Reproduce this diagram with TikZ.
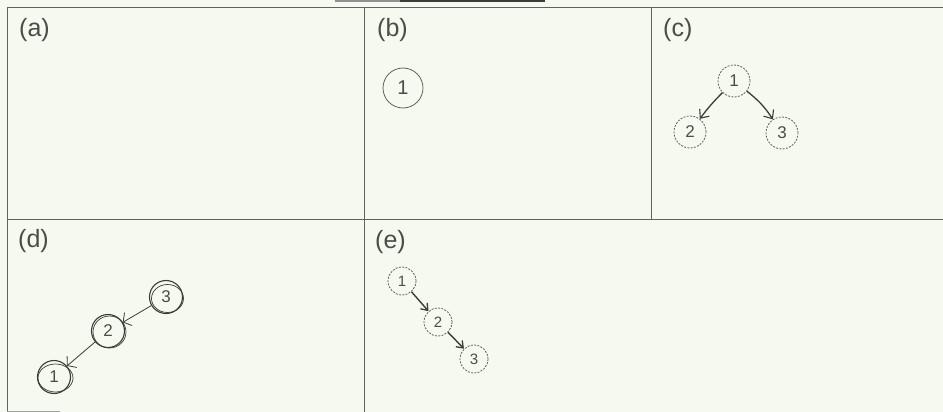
\documentclass[tikz,border=0pt]{standalone}
\usepackage{fontspec}
\setmainfont{Liberation Sans}
\usetikzlibrary{arrows.meta}
\definecolor{bg}{HTML}{F6F9EF}
\definecolor{ln}{HTML}{5F635D}
\definecolor{txt}{HTML}{4A4E48}
\definecolor{ink}{HTML}{3A3D38}
\tikzset{
  grid/.style={draw=ln, line width=0.9pt},
  lbl/.style={anchor=base west, text=txt, font=\fontsize{25}{25}\selectfont, inner sep=0pt},
  solidnode/.style={circle, draw=ln, line width=0.8pt, minimum size=40pt, inner sep=0pt, text=txt, font=\fontsize{20}{20}\selectfont},
  dashnode/.style={circle, draw=ln, line width=0.8pt, dash pattern=on 2pt off 1.3pt, minimum size=32pt, inner sep=0pt, text=txt, font=\fontsize{17}{17}\selectfont},
  smalldash/.style={dashnode, minimum size=28pt, font=\fontsize{15}{15}\selectfont},
  sketchnode/.style={circle, draw=ink, line width=1.1pt, minimum size=33pt, inner sep=0pt, text=txt, font=\fontsize{17}{17}\selectfont},
  sketch2/.style={draw=ink, line width=0.7pt},
  carrow/.style={draw=ink, line width=1.3pt, -{Straight Barb[length=7pt,width=12pt,line width=1.1pt]}},
  darrow/.style={draw=ink, line width=0.8pt, -{Straight Barb[length=6pt,width=15pt,line width=0.8pt]}},
  earrow/.style={draw=ink, line width=1.4pt, -{Straight Barb[length=6pt,width=9pt,line width=1.3pt]}},
}
\begin{document}
\begin{tikzpicture}[x=1pt,y=-1pt]
\fill[bg] (0,0) rectangle (943,412);
\useasboundingbox (0,0) rectangle (943,412);
% top stray bar
\draw[draw=ln!70, line width=2.5pt] (335,1) -- (400,1);
\draw[draw=ink, line width=3pt] (400,1) -- (545,1);
% grid
\draw[grid] (943,7) -- (7,7) -- (7,412);
\draw[grid] (7,219) -- (943,219);
\draw[grid] (364,7) -- (364,412);
\draw[grid] (651,7) -- (651,219);
\draw[draw=ln!60, line width=0.8pt] (7,411) -- (60,411);
% labels
\node[lbl] (la) at (19,37) {(a)};
\node[lbl] (lb) at (377,37) {(b)};
\node[lbl] (lc) at (663,37) {(c)};
\node[lbl] (ld) at (18,247) {(d)};
\node[lbl] (le) at (375,248) {(e)};
% (b)
\node[solidnode] (b1) at (403,88) {1};
% (c)
\node[dashnode] (c1) at (734,81) {1};
\node[dashnode] (c2) at (690,132) {2};
\node[dashnode] (c3) at (782,133) {3};
\draw[carrow] (c1) to[bend right=4] (c2);
\draw[carrow] (c1) to[bend left=9] (c3);
% (d)
\node[sketchnode] (d3) at (166,297) {3};
\node[sketchnode] (d2) at (108,331) {2};
\node[sketchnode] (d1) at (54,377) {1};
\draw[sketch2] (167.5,298.5) ellipse (16 and 14);
\draw[sketch2] (109.5,332) ellipse (16.5 and 16);
\draw[sketch2] (55.5,378) ellipse (17.5 and 14);
\draw[darrow] (d3) -- (d2);
\draw[darrow] (d2) -- (d1);
% (e)
\node[smalldash] (e1) at (402,281) {1};
\node[smalldash] (e2) at (438,322) {2};
\node[smalldash] (e3) at (474,359) {3};
\draw[earrow] (e1) -- (e2);
\draw[earrow] (e2) -- (e3);
\end{tikzpicture}
\end{document}
